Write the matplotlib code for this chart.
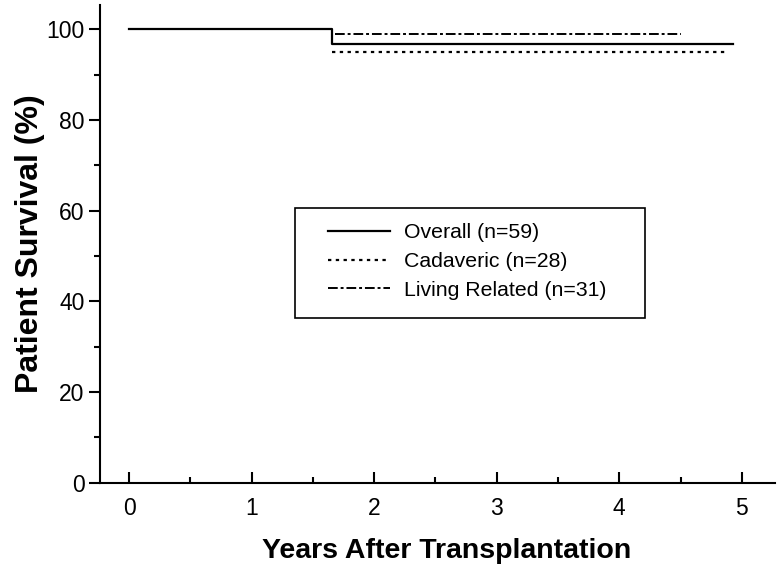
import matplotlib
matplotlib.use("Agg")
import matplotlib.pyplot as plt
from matplotlib.ticker import MultipleLocator
from matplotlib.patches import Rectangle

plt.rcParams['font.family'] = ['Liberation Sans', 'DejaVu Sans']

# survival curves (years, percent)
overall_x = [0, 1.66, 1.66, 4.93]
overall_y = [100, 100, 96.7, 96.7]
cadaveric_x = [1.66, 4.88]
cadaveric_y = [95.0, 95.0]
living_x = [1.68, 4.50]
living_y = [99.0, 99.0]

labels = ["Overall (n=59)", "Cadaveric (n=28)", "Living Related (n=31)"]

fig = plt.figure(figsize=(7.78, 5.78), dpi=100)
ax = fig.add_axes([0.1285, 0.1649, 0.8675, 0.8265])

ax.plot(overall_x, overall_y, color='black', lw=1.6, label=labels[0])
ax.plot(cadaveric_x, cadaveric_y, color='black', lw=1.6,
        linestyle=(0, (1.5, 2.0)), label=labels[1])
ax.plot(living_x, living_y, color='black', lw=1.4,
        linestyle=(0, (5, 1.5, 1.5, 1.5)), label=labels[2])

ax.set_xlim(-0.237, 5.27)
ax.set_ylim(0, 105.4)
ax.xaxis.set_major_locator(MultipleLocator(1))
ax.xaxis.set_minor_locator(MultipleLocator(0.5))
ax.yaxis.set_minor_locator(MultipleLocator(10))
ax.set_yticks([0, 20, 40, 60, 80, 100])

for s in ['top', 'right']:
    ax.spines[s].set_visible(False)
for s in ['left', 'bottom']:
    ax.spines[s].set_linewidth(1.5)

ax.tick_params(axis='y', which='major', direction='out', length=8, width=1.5,
               labelsize=16.5, pad=3)
ax.tick_params(axis='y', which='minor', direction='out', length=4.5, width=1.5)
ax.tick_params(axis='x', which='major', direction='in', length=8, width=1.5,
               labelsize=16.5, pad=10)
ax.tick_params(axis='x', which='minor', direction='in', length=4.5, width=1.5)

ax.set_xlabel("Years After Transplantation", fontsize=20.5, fontweight='bold', labelpad=13)
ax.xaxis.label.set_x(0.514)
ax.set_ylabel("Patient Survival (%)", fontsize=23, fontweight='bold', labelpad=1)

# legend box drawn separately (wider side padding than top/bottom)
ax.add_patch(Rectangle((0.2889, 0.3448), 0.5185, 0.2299, transform=ax.transAxes,
                       fill=False, edgecolor='black', lw=1.2, zorder=3))
leg = ax.legend(loc='upper left', bbox_to_anchor=(0.3378, 0.5428), fontsize=15.3,
                frameon=False, handlelength=2.9, handletextpad=0.7, borderpad=0,
                labelspacing=0.46, borderaxespad=0)

fig.savefig("out.png", dpi=100)
